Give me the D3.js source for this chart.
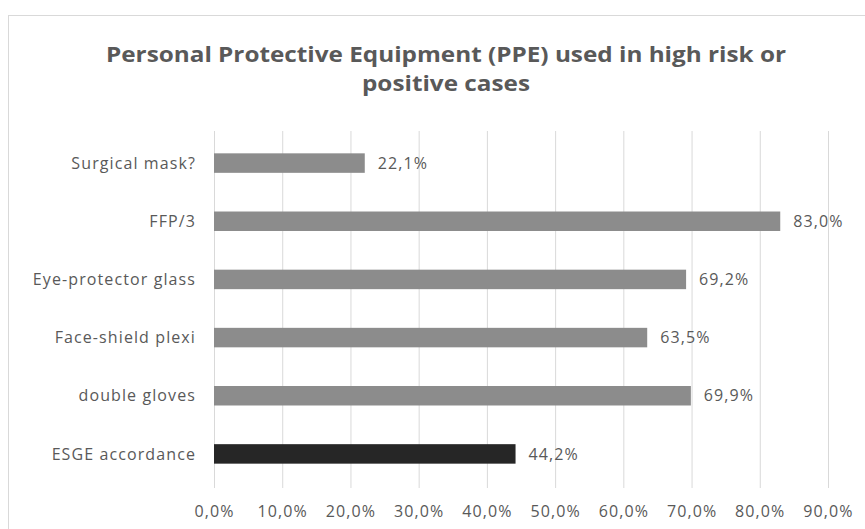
<!DOCTYPE html>
<html>
<head>
<meta charset="utf-8">
<script src="https://cdn.jsdelivr.net/npm/d3@7"></script>
<style>
  html, body { margin: 0; padding: 0; background: #fff; }
  svg { display: block; }
  text { font-family: "Open Sans", "Noto Sans", sans-serif; }
</style>
</head>
<body>
<div id="chart"></div>
<script>
// PPE usage in high-risk or positive cases (share of respondents)
const categories = [
  "Surgical mask?",
  "FFP/3",
  "Eye-protector glass",
  "Face-shield plexi",
  "double gloves",
  "ESGE accordance"
];
const values = [0.221, 0.830, 0.692, 0.635, 0.699, 0.442];
const highlighted = ["ESGE accordance"];
const tickValues = [0, 0.1, 0.2, 0.3, 0.4, 0.5, 0.6, 0.7, 0.8, 0.9];
const titleLines = [
  "Personal Protective Equipment (PPE) used in high risk or",
  "positive cases"
];

const W = 865, H = 529;
const plot = { left: 214, right: 828, top: 134, bottom: 483 };
const labelSize = 16, labelSpacing = 1.1;

const fmt = v => d3.format(".1f")(v * 100).replace(".", ",") + "%";

const svg = d3.select("#chart").append("svg")
  .attr("width", W).attr("height", H);

// chart area frame
svg.append("rect")
  .attr("x", 8.5).attr("y", 15.5)
  .attr("width", W + 10).attr("height", H + 10)
  .attr("fill", "#fff").attr("stroke", "#d9d9d9").attr("stroke-width", 1);

// title
svg.append("g").selectAll("text").data(titleLines).join("text")
  .attr("x", 446).attr("y", (d, i) => 62 + i * 29)
  .attr("text-anchor", "middle")
  .attr("fill", "#595959")
  .attr("font-size", 21)
  .attr("font-weight", "bold")
  .attr("textLength", (d, i) => i === 0 ? 680 : 168)
  .attr("lengthAdjust", "spacingAndGlyphs")
  .text(d => d);

const x = d3.scaleLinear().domain([0, 0.9]).range([plot.left, plot.right]);
const y = d3.scaleBand().domain(categories)
  .range([plot.top, plot.bottom])
  .paddingInner(0.665).paddingOuter(0.3325);

// vertical gridlines and percentage ticks
svg.append("g")
  .attr("transform", `translate(0,${plot.bottom + 5})`)
  .call(d3.axisBottom(x).tickValues(tickValues).tickFormat(fmt)
    .tickSize(-(plot.bottom - plot.top + 8)).tickPadding(18))
  .call(g => g.select(".domain").remove())
  .call(g => g.selectAll(".tick line").attr("stroke", "#d9d9d9"))
  .call(g => g.selectAll(".tick text")
    .attr("fill", "#595959").attr("font-size", labelSize)
    .attr("letter-spacing", labelSpacing)
    .attr("font-family", "'Open Sans', sans-serif"));

// bars
svg.append("g").selectAll("rect").data(categories).join("rect")
  .attr("x", x(0))
  .attr("y", d => y(d))
  .attr("width", (d, i) => x(values[i]) - x(0))
  .attr("height", y.bandwidth())
  .attr("fill", d => highlighted.includes(d) ? "#262626" : "#8c8c8c");

// value labels
svg.append("g").selectAll("text").data(categories).join("text")
  .attr("x", (d, i) => x(values[i]) + 13)
  .attr("y", d => y(d) + y.bandwidth() / 2)
  .attr("dy", "0.35em")
  .attr("fill", "#595959")
  .attr("font-size", labelSize)
  .attr("letter-spacing", labelSpacing)
  .text((d, i) => fmt(values[i]));

// category labels
svg.append("g").selectAll("text").data(categories).join("text")
  .attr("x", 196)
  .attr("y", d => y(d) + y.bandwidth() / 2)
  .attr("dy", "0.35em")
  .attr("text-anchor", "end")
  .attr("fill", "#595959")
  .attr("font-size", labelSize)
  .attr("letter-spacing", labelSpacing)
  .text(d => d);
</script>
</body>
</html>
